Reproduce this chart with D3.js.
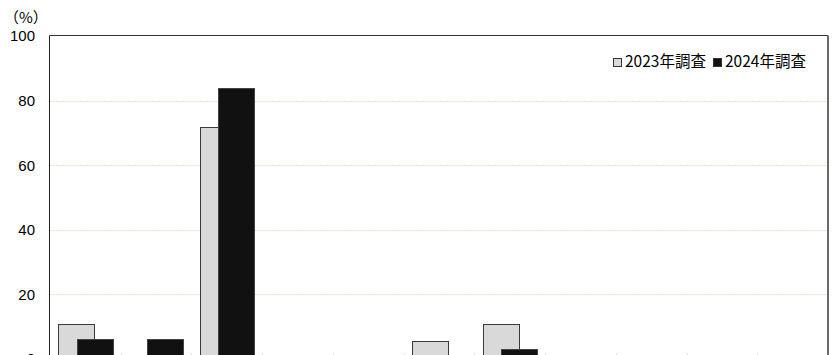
<!DOCTYPE html>
<html>
<head>
<meta charset="utf-8">
<script src="https://cdn.jsdelivr.net/npm/d3@7"></script>
<style>
  html, body { margin: 0; padding: 0; background: #fff; }
  svg { display: block; }
</style>
</head>
<body>
<div id="chart"></div>
<script>
// Survey response shares (%) per answer option, 2023 vs 2024
const categories = ["項目1", "項目2", "項目3", "項目4", "項目5", "項目6",
                    "項目7", "項目8", "項目9", "項目10", "項目11"];
const values2023 = [10.9, 0, 71.9, 0, 0, 5.7, 10.9, 0, 0, 0, 0];
const values2024 = [6.2, 6.2, 83.9, 0, 0, 0, 3.2, 0, 0, 0, 0];
const seriesNames = ["2023年調査", "2024年調査"];
const yTicks = [0, 20, 40, 60, 80, 100];

const W = 832, H = 355;
const plotL = 50, plotR = 828, plotT = 36, plotB = 359;

const svg = d3.select("#chart").append("svg")
  .attr("width", W).attr("height", H);

const x = d3.scaleBand().domain(categories).range([plotL, plotR]).padding(0);
const y = d3.scaleLinear().domain([0, 100]).range([plotB, plotT]);
const bw = x.bandwidth();

// dotted gridlines
svg.append("g").selectAll("line")
  .data(yTicks.filter(t => t > 0 && t < 100))
  .join("line")
  .attr("x1", plotL).attr("x2", plotR)
  .attr("y1", d => Math.round(y(d)) + 0.5).attr("y2", d => Math.round(y(d)) + 0.5)
  .attr("stroke", "#e6e1cc").attr("stroke-width", 1)
  .attr("stroke-dasharray", "2,1");

// y axis labels
const yAxis = d3.axisLeft(y).tickValues(yTicks).tickSize(0).tickPadding(15);
const gy = svg.append("g").attr("transform", `translate(${plotL},0)`).call(yAxis);
gy.select(".domain").remove();
gy.selectAll("text")
  .attr("font-family", "'Liberation Sans', Arial, sans-serif")
  .attr("font-size", 15).attr("fill", "#000");

// category boundary ticks along the baseline
svg.append("g").selectAll("line")
  .data(categories.slice(1))
  .join("line")
  .attr("x1", d => Math.round(x(d)) + 0.5).attr("x2", d => Math.round(x(d)) + 0.5)
  .attr("y1", plotB - 5).attr("y2", plotB)
  .attr("stroke", "#c8c8c8");

const barW = bw * 0.51;
const off23 = bw * 0.12, off24 = bw * 0.375;

// 2023 bars (light gray)
svg.append("g").selectAll("rect")
  .data(categories.map((c, i) => ({ c, v: values2023[i] })).filter(d => d.v > 0))
  .join("rect")
  .attr("x", d => Math.round(x(d.c) + off23) + 0.5)
  .attr("y", d => Math.round(y(d.v)) + 0.5)
  .attr("width", Math.round(barW))
  .attr("height", d => y(0) - Math.round(y(d.v)))
  .attr("fill", "#d9d9d9").attr("stroke", "#3a3a3a").attr("stroke-width", 1);

// 2024 bars (black)
svg.append("g").selectAll("rect")
  .data(categories.map((c, i) => ({ c, v: values2024[i] })).filter(d => d.v > 0))
  .join("rect")
  .attr("x", d => Math.round(x(d.c) + off24) + 0.5)
  .attr("y", d => Math.round(y(d.v)) + 0.5)
  .attr("width", Math.round(barW))
  .attr("height", d => y(0) - Math.round(y(d.v)))
  .attr("fill", "#111").attr("stroke", "#444").attr("stroke-width", 1);

// plot frame
svg.append("line").attr("x1", plotL - 0.5).attr("x2", plotR).attr("y1", plotT - 0.5).attr("y2", plotT - 0.5)
  .attr("stroke", "#333");
svg.append("line").attr("x1", plotL - 0.5).attr("x2", plotL - 0.5).attr("y1", plotT - 0.5).attr("y2", H + 5)
  .attr("stroke", "#222");
svg.append("line").attr("x1", plotR).attr("x2", plotR).attr("y1", plotT - 0.5).attr("y2", H + 5)
  .attr("stroke", "#6a6a6a").attr("stroke-width", 2);

// unit label
svg.append("text").attr("x", 4).attr("y", 23)
  .attr("font-family", "'Noto Sans CJK JP', sans-serif").attr("font-size", 15)
  .text("（%）");

// legend
const legendFont = "'Noto Sans CJK JP', sans-serif";
const legend = [
  { name: seriesNames[0], fill: "#d9d9d9", x: 613 },
  { name: seriesNames[1], fill: "#111", x: 713 }
];
const lg = svg.append("g");
legend.forEach(l => {
  lg.append("rect").attr("x", l.x + 0.5).attr("y", 58.5).attr("width", 8).attr("height", 8)
    .attr("fill", l.fill).attr("stroke", "#333");
  lg.append("text").attr("x", l.x + 12).attr("y", 67)
    .attr("font-family", legendFont).attr("font-size", 15.5).attr("fill", "#000")
    .text(l.name);
});
</script>
</body>
</html>
